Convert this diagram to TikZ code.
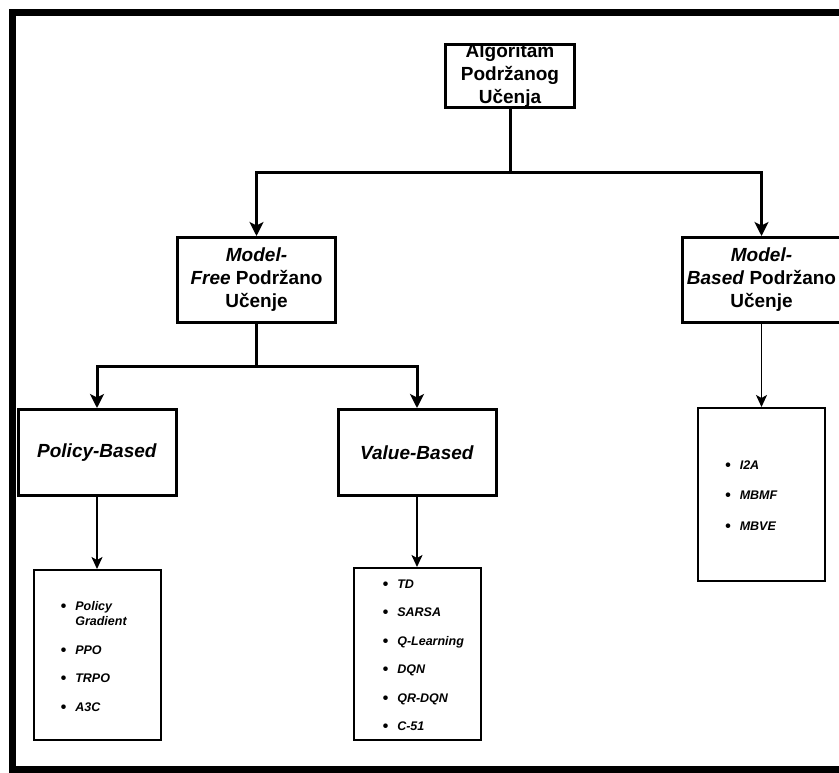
\documentclass[tikz,border=0pt]{standalone}
\usepackage{fontspec}
\setmainfont{Liberation Sans}
\usetikzlibrary{arrows.meta,positioning,calc}
\tikzset{
blok/.style={draw,line width=3pt,align=center,inner sep=0pt,font=\bfseries\fontsize{19}{23}\selectfont,minimum width=#1},
lista/.style={draw,line width=2pt,inner sep=0pt,minimum width=127pt},
con/.style={line width=3pt,-{Stealth[length=14pt,width=14pt,inset=3.5pt]}},
con2/.style={line width=1.8pt,-{Stealth[length=12pt,width=11pt,inset=3pt]}},
stavke/.style={inner sep=0pt,font=\bfseries\itshape\fontsize{12.5}{15.5}\selectfont},
}
\newcommand{\blt}{\smash{\raisebox{-1pt}{\fontsize{16}{15.5}\selectfont\textbullet}}}

\begin{document}
\begin{tikzpicture}[x=1pt,y=-1pt]
  \useasboundingbox (0,0) rectangle (839,772);
  \clip (0,0) rectangle (839,772);
  % okvir
  \draw[line width=7pt] (850,12) -- (12.5,12) -- (12.5,769.5) -- (850,769.5);

  % glavni blokovi
  \node[blok=129pt,minimum height=63pt] (root) at (510,76) {Algoritam\\Podržanog\\Učenja};
  \node[blok=158pt,minimum height=85pt] (free) at (256.5,280) {\textit{Model-}\\\textit{Free} Podržano\\Učenje};
  \node[blok=158pt,minimum height=85pt] (based) at (761.5,280) {\textit{Model-}\\\textit{Based} Podržano\\Učenje};
  \node[blok=158pt,minimum height=86pt] (policy) at (97,452.5) {\textit{Policy-Based}};
  \node[blok=158pt,minimum height=86pt] (value) at (417,452.5) {\textit{Value-Based}};

  % liste
  \node[lista,minimum height=170pt] (plist) at (97,655) {};
  \node[lista,minimum height=172pt] (vlist) at (417,654) {};
  \node[lista,minimum height=173pt] (blist) at (761.5,494.5) {};

  \node[stavke,right=28pt of plist.west,yshift=-2.5pt] (pitems) {\begin{tabular}{@{}l@{\hspace{9pt}}l@{}}
    \blt & Policy\\ & Gradient\\[13pt]
    \blt & PPO\\[13pt]
    \blt & TRPO\\[13pt]
    \blt & A3C
  \end{tabular}};
  \node[stavke,right=30pt of vlist.west,yshift=-2.5pt] (vitems) {\begin{tabular}{@{}l@{\hspace{9pt}}l@{}}
    \blt & TD\\[13pt]
    \blt & SARSA\\[13pt]
    \blt & Q-Learning\\[13pt]
    \blt & DQN\\[13pt]
    \blt & QR-DQN\\[13pt]
    \blt & C-51
  \end{tabular}};
  \node[stavke,right=28pt of blist.west,yshift=-2pt] (bitems) {\begin{tabular}{@{}l@{\hspace{9pt}}l@{}}
    \blt & I2A\\[15pt]
    \blt & MBMF\\[15pt]
    \blt & MBVE
  \end{tabular}};

  % veze
  \draw[con] (root.south) -- ++(0,63) coordinate (r1) -| (free.north);
  \draw[con] (r1) -| (based.north);
  \draw[con] (free.south) -- ++(0,42) coordinate (f1) -| (policy.north);
  \draw[con] (f1) -| (value.north);
  \draw[con2] (policy.south) -- (plist.north);
  \draw[con2] (value.south) -- (vlist.north);
  \draw[con2] (based.south) -- (blist.north);
\end{tikzpicture}
\end{document}
